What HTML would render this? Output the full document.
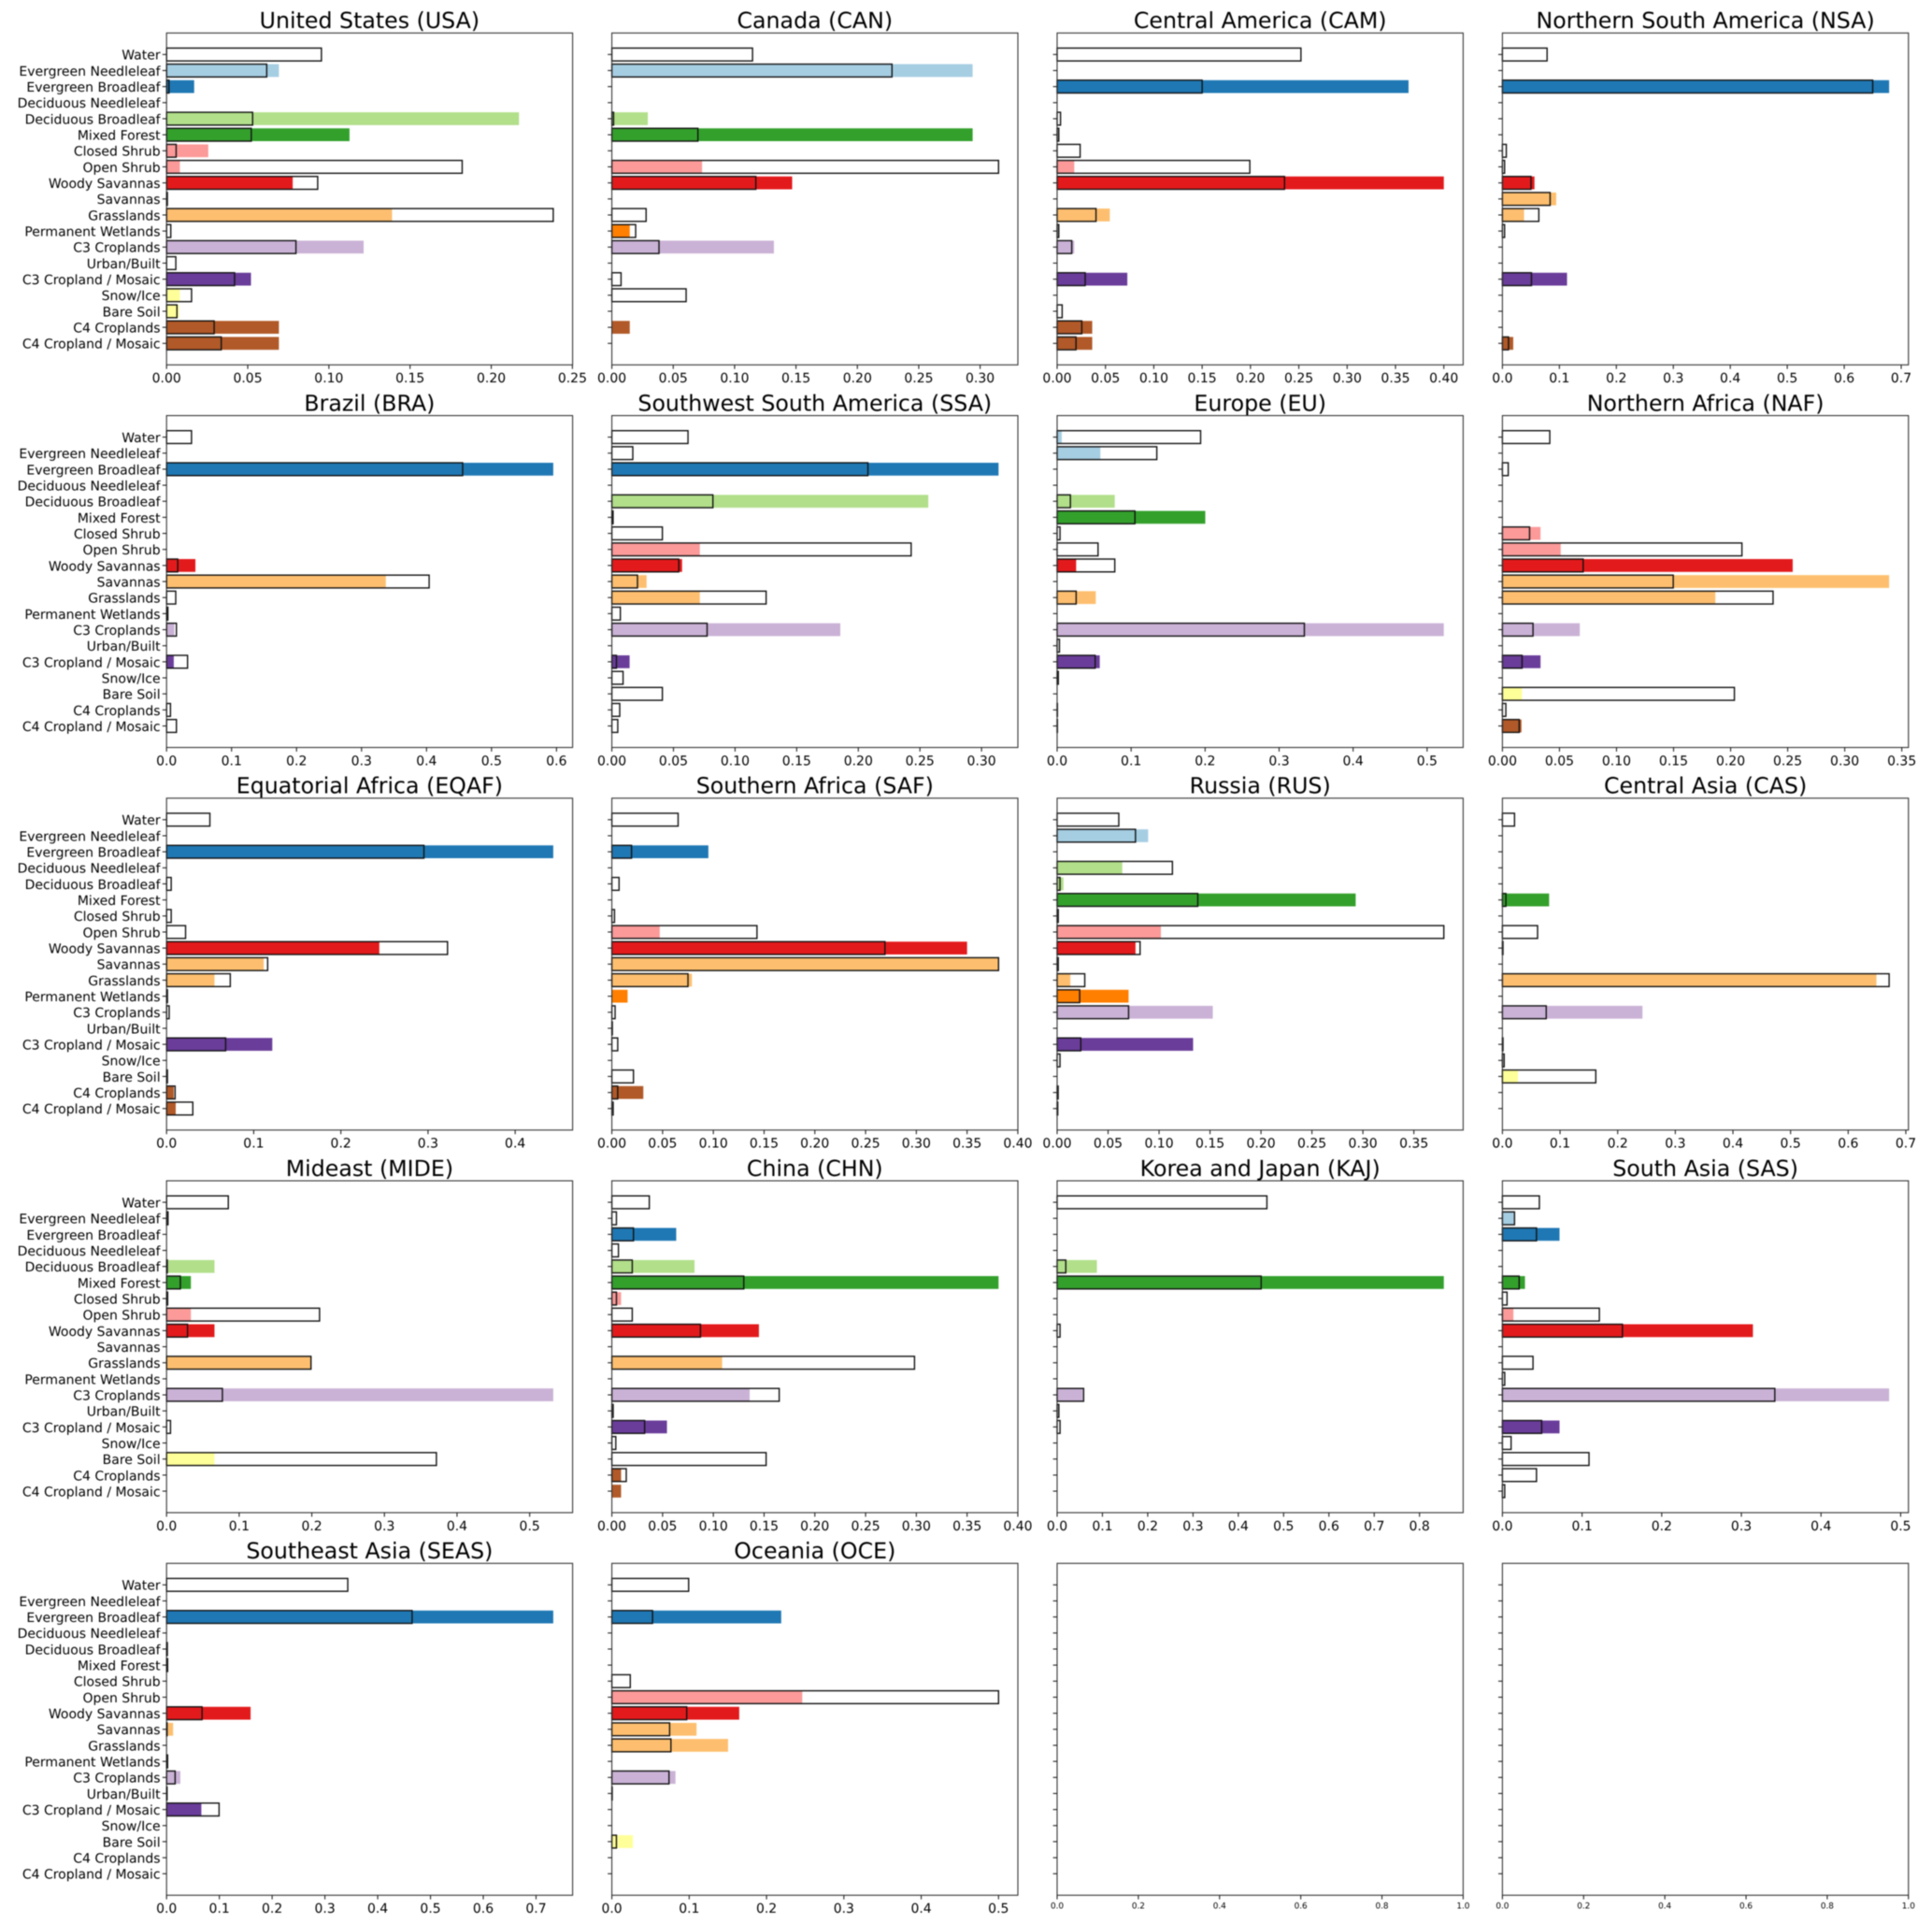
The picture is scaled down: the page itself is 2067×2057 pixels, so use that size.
<!DOCTYPE html>
<html lang="en">
<head>
<meta charset="utf-8">
<title>Land cover fractions by region</title>
<style>
  html, body { margin: 0; padding: 0; background: #ffffff; width: 2067px; height: 2057px; overflow: hidden; }
  svg { display: block; filter: blur(0.45px); }
  text { font-family: "DejaVu Sans", "Liberation Sans", sans-serif; fill: #000000; text-rendering: geometricPrecision; }
</style>
</head>
<body>
<svg id="chart" xmlns="http://www.w3.org/2000/svg" width="2067" height="2057" viewBox="0 0 2067 2057"></svg>
<script>
const categories = ['Water','Evergreen Needleleaf','Evergreen Broadleaf','Deciduous Needleleaf','Deciduous Broadleaf','Mixed Forest','Closed Shrub','Open Shrub','Woody Savannas','Savannas','Grasslands','Permanent Wetlands','C3 Croplands','Urban/Built','C3 Cropland / Mosaic','Snow/Ice','Bare Soil','C4 Croplands','C4 Cropland / Mosaic'];
const categoryColors = ['#a6cee3','#a6cee3','#1f78b4','#b2df8a','#b2df8a','#33a02c','#fb9a99','#fb9a99','#e31a1c','#fdbf6f','#fdbf6f','#ff7f00','#cab2d6','#888888','#6a3d9a','#ffff99','#ffff99','#b15928','#b15928'];

const usaFilled = [0,.0692,.017,0,.2171,.1127,.0257,.0082,.0777,0,.1389,0,.1214,0,.052,.0082,.0077,.0692,.0692];
const usaOutlined = [.0954,.0617,.0015,0,.053,.0522,.0059,.1821,.0931,.0005,.2382,.0026,.0797,.0057,.0419,.0154,.0064,.0293,.0337];
const usaTicks = ['0.00','0.05','0.10','0.15','0.20','0.25'];

const canFilled = [0,.2939,0,0,.0293,.2939,0,.0735,.1469,0,0,.0146,.132,0,0,0,0,.0146,0];
const canOutlined = [.1146,.2282,0,0,.0014,.0701,0,.315,.1173,0,.0279,.0194,.0384,0,.0075,.0605,0,0,0];
const canTicks = ['0.00','0.05','0.10','0.15','0.20','0.25','0.30'];

const camFilled = [0,0,.3635,0,0,0,0,.0177,.4,0,.0545,0,.0177,0,.0726,0,0,.0363,.0363];
const camOutlined = [.2522,0,.15,0,.0035,.0017,.0238,.1993,.2352,0,.0402,.0017,.0151,0,.029,0,.0052,.0255,.0195];
const camTicks = ['0.00','0.05','0.10','0.15','0.20','0.25','0.30','0.35','0.40'];

const nsaFilled = [0,0,.6788,0,0,0,0,0,.0563,.0944,.038,0,0,0,.1134,0,0,0,.019];
const nsaOutlined = [.0784,0,.65,0,0,0,.0068,.0038,.0502,.0837,.0639,.0038,0,0,.051,0,0,0,.0107];
const nsaTicks = ['0.0','0.1','0.2','0.3','0.4','0.5','0.6','0.7'];

const braFilled = [0,0,.595,0,0,0,0,0,.0444,.3374,0,0,.012,0,.0111,0,0,0,0];
const braOutlined = [.0384,0,.4556,0,0,0,0,0,.0172,.404,.0141,.002,.0152,0,.0323,0,0,.006,.0152];
const braTicks = ['0.0','0.1','0.2','0.3','0.4','0.5','0.6'];

const ssaFilled = [0,0,.3138,0,.2568,0,0,.0714,.057,.0282,.0714,0,.1854,0,.0144,0,0,0,0];
const ssaOutlined = [.0618,.017,.2078,0,.082,.001,.041,.2429,.0543,.0208,.1252,.0069,.0773,0,.0037,.0091,.041,.0064,.0048];
const ssaTicks = ['0.00','0.05','0.10','0.15','0.20','0.25','0.30'];

const euFilled = [.0062,.0584,0,0,.0779,.2002,0,0,.0257,0,.0522,0,.5226,0,.0576,0,0,0,0];
const euOutlined = [.1939,.1347,0,0,.0179,.1051,.0039,.0553,.0779,0,.0257,0,.3341,.0031,.0514,.0016,0,.0004,.0004];
const euTicks = ['0.0','0.1','0.2','0.3','0.4','0.5'];

const nafFilled = [0,0,0,0,0,0,.0334,.0511,.2544,.3389,.1866,0,.0678,0,.0334,0,.0172,0,.0167];
const nafOutlined = [.0415,0,.0051,0,0,0,.0238,.2099,.0708,.1497,.2372,0,.0268,0,.0172,0,.2033,.003,.0147];
const nafTicks = ['0.00','0.05','0.10','0.15','0.20','0.25','0.30','0.35'];

const eqafFilled = [0,0,.4437,0,0,0,0,0,.2441,.1115,.055,0,0,0,.1213,0,0,.0083,.0105];
const eqafOutlined = [.0497,0,.2953,0,.0053,0,.0053,.0218,.3224,.116,.0731,.001,.003,0,.0678,0,.001,.0098,.0301];
const eqafTicks = ['0.0','0.1','0.2','0.3','0.4'];

const safFilled = [0,0,.0951,0,0,0,0,.0472,.35,.381,.0789,.0155,0,0,0,0,0,.031,0];
const safOutlined = [.0653,0,.0194,0,.0071,0,.0026,.143,.2691,.381,.075,0,.0032,.0005,.0058,0,.0213,.0058,.0013];
const safTicks = ['0.00','0.05','0.10','0.15','0.20','0.25','0.30','0.35','0.40'];

const rusFilled = [0,.0893,0,.0639,.0062,.2929,0,.1018,.0769,0,.013,.0701,.1527,0,.1334,0,0,0,0];
const rusOutlined = [.0605,.0769,0,.1131,.0028,.138,.0011,.3794,.0814,.0011,.0271,.0221,.0701,0,.0232,.0028,0,.001,.0006];
const rusTicks = ['0.00','0.05','0.10','0.15','0.20','0.25','0.30','0.35'];

const casFilled = [0,0,0,0,0,.081,0,0,0,0,.649,0,.243,0,0,0,.027,0,0];
const casOutlined = [.021,0,0,0,0,.006,0,.061,.001,0,.671,0,.076,0,.001,.003,.162,0,0];
const casTicks = ['0.0','0.1','0.2','0.3','0.4','0.5','0.6','0.7'];

const mideFilled = [0,0,0,0,.066,.0335,0,.0335,.066,0,.1989,0,.5325,0,0,0,.066,0,0];
const mideOutlined = [.085,.002,0,0,.001,.019,.0015,.2107,.0289,0,.1989,0,.0769,0,.0054,0,.3716,0,0];
const mideTicks = ['0.0','0.1','0.2','0.3','0.4','0.5'];

const chnFilled = [0,0,.0634,0,.0815,.381,.0091,0,.1449,0,.1087,0,.1358,0,.0543,0,0,.0091,.0091];
const chnOutlined = [.0369,.0045,.0213,.0065,.0201,.13,.0045,.0201,.0873,0,.2982,0,.1649,.0013,.0323,.0039,.152,.0142,0];
const chnTicks = ['0.00','0.05','0.10','0.15','0.20','0.25','0.30','0.35','0.40'];

const kajFilled = [0,0,0,0,.0878,.8537,0,0,0,0,0,0,.0566,0,0,0,0,0,0];
const kajOutlined = [.4631,0,0,0,.0191,.4504,0,0,.0064,0,0,0,.0585,.0038,.0064,0,0,0,0];
const kajTicks = ['0.0','0.1','0.2','0.3','0.4','0.5','0.6','0.7','0.8'];

const sasFilled = [0,.0145,.0717,0,0,.0283,0,.0138,.3145,0,0,0,.4855,0,.0717,0,0,0,0];
const sasOutlined = [.0464,.0152,.0428,0,0,.021,.0058,.1217,.1507,0,.0384,.0029,.342,0,.0493,.0109,.1087,.0428,.0029];
const sasTicks = ['0.0','0.1','0.2','0.3','0.4','0.5'];

const seasFilled = [0,0,.7326,0,0,0,0,0,.1592,.0124,0,0,.0261,0,.0659,0,0,0,0];
const seasOutlined = [.3433,0,.4652,0,.0015,.002,0,0,.0672,.001,0,.002,.0162,.001,.0995,0,0,0,0];
const seasTicks = ['0.0','0.1','0.2','0.3','0.4','0.5','0.6','0.7'];

const oceFilled = [0,0,.219,0,0,0,0,.2462,.1647,.1095,.1503,0,.0823,0,0,0,.0272,0,0];
const oceOutlined = [.0993,0,.0526,0,0,0,.0238,.5,.0968,.0747,.0764,0,.0739,.0005,0,0,.0059,0,0];
const oceTicks = ['0.0','0.1','0.2','0.3','0.4','0.5'];

const emptyFilled = [];
const emptyOutlined = [];
const emptyTicks = ['0.0','0.2','0.4','0.6','0.8','1.0'];

const panels = [
  {title:'United States (USA)', filled:usaFilled, outlined:usaOutlined, ticks:usaTicks},
  {title:'Canada (CAN)', filled:canFilled, outlined:canOutlined, ticks:canTicks},
  {title:'Central America (CAM)', filled:camFilled, outlined:camOutlined, ticks:camTicks},
  {title:'Northern South America (NSA)', filled:nsaFilled, outlined:nsaOutlined, ticks:nsaTicks},
  {title:'Brazil (BRA)', filled:braFilled, outlined:braOutlined, ticks:braTicks},
  {title:'Southwest South America (SSA)', filled:ssaFilled, outlined:ssaOutlined, ticks:ssaTicks},
  {title:'Europe (EU)', filled:euFilled, outlined:euOutlined, ticks:euTicks},
  {title:'Northern Africa (NAF)', filled:nafFilled, outlined:nafOutlined, ticks:nafTicks},
  {title:'Equatorial Africa (EQAF)', filled:eqafFilled, outlined:eqafOutlined, ticks:eqafTicks},
  {title:'Southern Africa (SAF)', filled:safFilled, outlined:safOutlined, ticks:safTicks},
  {title:'Russia (RUS)', filled:rusFilled, outlined:rusOutlined, ticks:rusTicks},
  {title:'Central Asia (CAS)', filled:casFilled, outlined:casOutlined, ticks:casTicks},
  {title:'Mideast (MIDE)', filled:mideFilled, outlined:mideOutlined, ticks:mideTicks},
  {title:'China (CHN)', filled:chnFilled, outlined:chnOutlined, ticks:chnTicks},
  {title:'Korea and Japan (KAJ)', filled:kajFilled, outlined:kajOutlined, ticks:kajTicks},
  {title:'South Asia (SAS)', filled:sasFilled, outlined:sasOutlined, ticks:sasTicks},
  {title:'Southeast Asia (SEAS)', filled:seasFilled, outlined:seasOutlined, ticks:seasTicks},
  {title:'Oceania (OCE)', filled:oceFilled, outlined:oceOutlined, ticks:oceTicks},
  {title:'', filled:emptyFilled, outlined:emptyOutlined, ticks:emptyTicks},
  {title:'', filled:emptyFilled, outlined:emptyOutlined, ticks:emptyTicks}
];

const svg = document.getElementById('chart');
const NS = 'http://www.w3.org/2000/svg';
const plotLeft = 178.2, plotTop = 35.3, plotW = 434.4, plotH = 355;
const colStep = 476.4, rowStep = 409.25;
const rowUnit = plotH / 20.68, barH = 0.8 * rowUnit, firstRow = 1.34 * rowUnit;

function make(parent, tag, attrs) {
  const el = document.createElementNS(NS, tag);
  for (const k in attrs) el.setAttribute(k, attrs[k]);
  parent.appendChild(el);
  return el;
}
function slug(s) {
  return s.toLowerCase().replace(/[^a-z0-9]+/g, '-').replace(/^-|-$/g, '');
}

panels.forEach(function (p, idx) {
  const col = idx % 4, row = Math.floor(idx / 4);
  const left = plotLeft + col * colStep;
  const top = plotTop + row * rowStep;
  const bottom = top + plotH;
  const peak = Math.max.apply(null, p.filled.concat(p.outlined, [0]));
  const xMax = peak > 0 ? peak * 1.05 : 1;
  const isEmpty = peak === 0;
  const xScale = function (v) { return left + (v / xMax) * plotW; };
  const yScale = function (i) { return top + firstRow + i * rowUnit; };
  const name = p.title ? slug(p.title) : 'empty-panel-' + (idx - 17);

  const g = make(svg, 'g', {});
  
  

  if (p.title) {
    const title = make(g, 'text', {x: left + plotW / 2, y: top - 5.3, 'text-anchor': 'middle', 'font-size': 23.7});
    
    
    title.textContent = p.title;
  }

  p.filled.forEach(function (v, i) {
    if (!v) return;
    const bar = make(g, 'rect', {x: left, y: yScale(i) - barH / 2, width: xScale(v) - left, height: barH, fill: categoryColors[i]});
    
    
  });

  p.outlined.forEach(function (v, i) {
    if (!v) return;
    const bar = make(g, 'rect', {x: left, y: yScale(i) - barH / 2, width: xScale(v) - left, height: barH, fill: 'none', stroke: '#111111', 'stroke-width': 1.4});
    
    
  });

  const frame = make(g, 'rect', {x: left, y: top, width: plotW, height: plotH, fill: 'none', stroke: '#333333', 'stroke-width': 1.1});
  
  

  categories.forEach(function (c, i) {
    const y = yScale(i);
    const tick = make(g, 'line', {x1: left - 4.4, x2: left, y1: y, y2: y, stroke: '#222222', 'stroke-width': 1.1});
    
    
    if (col === 0 && p.title) {
      const label = make(g, 'text', {x: left - 6.6, y: y + 5.4, 'text-anchor': 'end', 'font-size': 14});
      
      
      label.textContent = c;
    }
  });

  p.ticks.forEach(function (t) {
    const x = xScale(parseFloat(t));
    const tick = make(g, 'line', {x1: x, x2: x, y1: bottom, y2: bottom + 4.4, stroke: '#222222', 'stroke-width': 1.1});
    
    
    const label = make(g, 'text', {x: x, y: bottom + (isEmpty ? 14 : 18.7), 'text-anchor': 'middle', 'font-size': isEmpty ? 8.9 : 14});
    
    
    label.textContent = t;
  });
});
</script>
</body>
</html>
